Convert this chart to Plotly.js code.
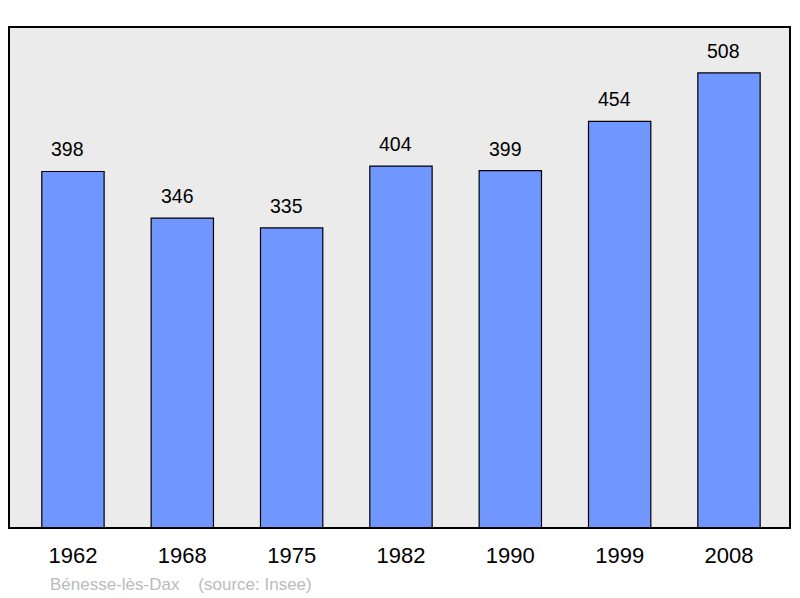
<!DOCTYPE html>
<html>
<head>
<meta charset="utf-8">
<script src="https://cdn.plot.ly/plotly-3.0.1.min.js"></script>
<style>
  html, body { margin: 0; padding: 0; background: #fff; }
  #chart { width: 800px; height: 598px; }
</style>
</head>
<body>
<div id="chart"></div>
<script>
// population by census year
const years = ['1962', '1968', '1975', '1982', '1990', '1999', '2008'];
const population = [398, 346, 335, 404, 399, 454, 508];
const sourceText = 'Bénesse-lès-Dax    (source: Insee)';

const barTrace = {
  type: 'bar',
  x: years,
  y: population,
  width: 0.57,
  marker: {color: '#7096ff', line: {color: '#000', width: 1.2}},
  hoverinfo: 'none'
};

// value labels sitting above each bar (x by category index)
const valueLabels = years.map((yr, i) => ({
  x: i,
  y: population[i],
  xref: 'x',
  yref: 'y',
  text: String(population[i]),
  showarrow: false,
  yanchor: 'bottom',
  yshift: 9,
  xshift: -5,
  font: {family: 'Liberation Sans, Arial, sans-serif', size: 19.5, color: '#000'}
}));

const layout = {
  width: 800,
  height: 598,
  margin: {l: 9, r: 10, t: 27, b: 70},
  paper_bgcolor: '#fff',
  plot_bgcolor: '#ebebeb',
  showlegend: false,
  xaxis: {
    type: 'category',
    range: [-0.585, 6.558],
    showgrid: false,
    zeroline: false,
    ticks: '',
    ticklabelstandoff: 12,
    tickfont: {family: 'Liberation Sans, Arial, sans-serif', size: 22, color: '#000'},
    fixedrange: true
  },
  yaxis: {
    range: [0, 559.3],
    showgrid: false,
    zeroline: false,
    showticklabels: false,
    ticks: '',
    fixedrange: true
  },
  shapes: [{
    type: 'rect',
    xref: 'paper', yref: 'paper',
    x0: 0, x1: 1, y0: 0, y1: 1,
    line: {color: '#000', width: 2}
  }],
  annotations: valueLabels.concat([{
    xref: 'paper', yref: 'paper',
    x: 0.05, y: -0.1118,
    xanchor: 'left', yanchor: 'middle',
    text: sourceText.replace(/ /g, '&nbsp;'),
    showarrow: false,
    font: {family: 'Liberation Sans, Arial, sans-serif', size: 17, color: '#bbbbbb'}
  }])
};

Plotly.newPlot('chart', [barTrace], layout, {displayModeBar: false, staticPlot: true});
</script>
</body>
</html>
